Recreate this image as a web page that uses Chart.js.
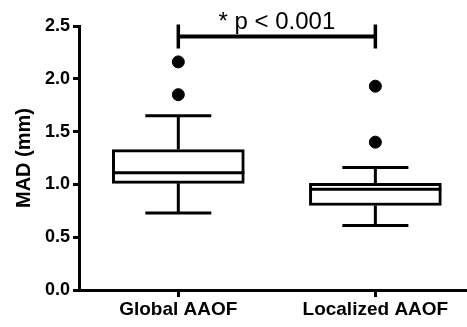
<!DOCTYPE html>
<html>
<head>
<meta charset="utf-8">
<script src="https://cdn.jsdelivr.net/npm/chart.js@4.4.1/dist/chart.umd.min.js"></script>
<style>
  html, body { margin: 0; padding: 0; background: #fff; overflow: hidden; }
  #wrap { position: relative; width: 467px; height: 327px; }
</style>
</head>
<body>
<div id="wrap"><canvas id="chart"></canvas></div>
<script>
// Dados
const categories = ['Global AAOF', 'Localized AAOF'];
const whiskerLow = [0.73, 0.61];
const q1 = [1.01, 0.80];
const median = [1.11, 0.955];
const q3 = [1.33, 1.01];
const whiskerHigh = [1.65, 1.16];
const outliersGlobal = [1.85, 2.16];
const outliersLocalized = [1.40, 1.93];
const yTicks = [0, 0.5, 1.0, 1.5, 2.0, 2.5];
const bracketY = 2.4;
const bracketLabel = '* p < 0.001';

const FONT = '"Liberation Sans", Arial, Helvetica, sans-serif';

// Mediana, bigodes e barra de significância
const boxExtras = {
  id: 'boxExtras',
  afterDatasetsDraw(chart) {
    const { ctx, scales: { x, y } } = chart;
    ctx.save();
    ctx.strokeStyle = '#000';
    ctx.lineWidth = 3;
    ctx.lineCap = 'butt';
    categories.forEach((c, i) => {
      const cx = x.getPixelForValue(i);
      const half = 66, cap = 33;
      // mediana
      ctx.beginPath();
      ctx.moveTo(cx - half, y.getPixelForValue(median[i]));
      ctx.lineTo(cx + half, y.getPixelForValue(median[i]));
      ctx.stroke();
      // bigodes
      ctx.beginPath();
      ctx.moveTo(cx, y.getPixelForValue(q3[i]));
      ctx.lineTo(cx, y.getPixelForValue(whiskerHigh[i]));
      ctx.moveTo(cx - cap, y.getPixelForValue(whiskerHigh[i]));
      ctx.lineTo(cx + cap, y.getPixelForValue(whiskerHigh[i]));
      ctx.moveTo(cx, y.getPixelForValue(q1[i]));
      ctx.lineTo(cx, y.getPixelForValue(whiskerLow[i]));
      ctx.moveTo(cx - cap, y.getPixelForValue(whiskerLow[i]));
      ctx.lineTo(cx + cap, y.getPixelForValue(whiskerLow[i]));
      ctx.stroke();
    });
    // barra de significância
    const x0 = x.getPixelForValue(0), x1 = x.getPixelForValue(1);
    const by = y.getPixelForValue(bracketY);
    ctx.lineWidth = 4;
    ctx.beginPath();
    ctx.moveTo(x0, by); ctx.lineTo(x1, by);
    ctx.stroke();
    ctx.lineWidth = 3.5;
    ctx.beginPath();
    ctx.moveTo(x0, by - 12); ctx.lineTo(x0, by + 12);
    ctx.moveTo(x1, by - 12); ctx.lineTo(x1, by + 12);
    ctx.stroke();
    ctx.fillStyle = '#000';
    ctx.font = '24px ' + FONT;
    ctx.textAlign = 'center';
    ctx.textBaseline = 'alphabetic';
    ctx.fillText(bracketLabel, (x0 + x1) / 2, by - 8);
    ctx.restore();
  }
};

new Chart(document.getElementById('chart'), {
  type: 'bar',
  data: {
    datasets: [
      {
        label: 'IQR',
        data: categories.map((c, i) => ({ x: i, y: [q1[i], q3[i]] })),
        backgroundColor: '#fff',
        borderColor: '#000',
        borderWidth: 3,
        borderSkipped: false,
        barThickness: 132
      },
      {
        type: 'scatter',
        label: 'Outliers',
        data: [
          ...outliersGlobal.map(v => ({ x: 0, y: v })),
          ...outliersLocalized.map(v => ({ x: 1, y: v }))
        ],
        backgroundColor: '#000',
        borderColor: '#000',
        pointRadius: 6,
        pointHoverRadius: 6
      }
    ]
  },
  options: {
    responsive: true,
    maintainAspectRatio: false,
    animation: false,
    layout: { autoPadding: false, padding: { top: 26, left: 0, right: 0, bottom: 0 } },
    plugins: {
      legend: { display: false },
      tooltip: { enabled: false }
    },
    scales: {
      x: {
        type: 'linear',
        min: -0.504,
        max: 1.465,
        offset: false,
        afterFit: s => { s.height = 37; },
        afterBuildTicks: s => { s.ticks = categories.map((c, i) => ({ value: i })); },
        grid: {
          offset: false,
          drawOnChartArea: false,
          drawTicks: true,
          tickLength: 7,
          color: '#000',
          lineWidth: 3
        },
        border: { display: true, color: '#000', width: 3 },
        ticks: {
          color: '#000',
          padding: 1,
          maxRotation: 0,
          font: { family: FONT, size: 19, weight: 'bold' },
          callback: v => categories[v]
        }
      },
      y: {
        min: 0,
        max: 2.5,
        afterFit: s => { s.width = 79; },
        afterBuildTicks: s => { s.ticks = yTicks.map(v => ({ value: v })); },
        grid: {
          drawOnChartArea: false,
          drawTicks: true,
          tickLength: 6,
          color: '#000',
          lineWidth: 3
        },
        border: { display: true, color: '#000', width: 3 },
        ticks: {
          color: '#000',
          padding: 3,
          font: { family: FONT, size: 18, weight: 'bold' },
          callback: v => Number(v).toFixed(1)
        },
        title: {
          display: true,
          text: 'MAD (mm)',
          color: '#000',
          padding: { top: 12, bottom: 4 },
          font: { family: FONT, size: 20, weight: 'bold' }
        }
      }
    }
  },
  plugins: [boxExtras]
});
</script>
</body>
</html>
